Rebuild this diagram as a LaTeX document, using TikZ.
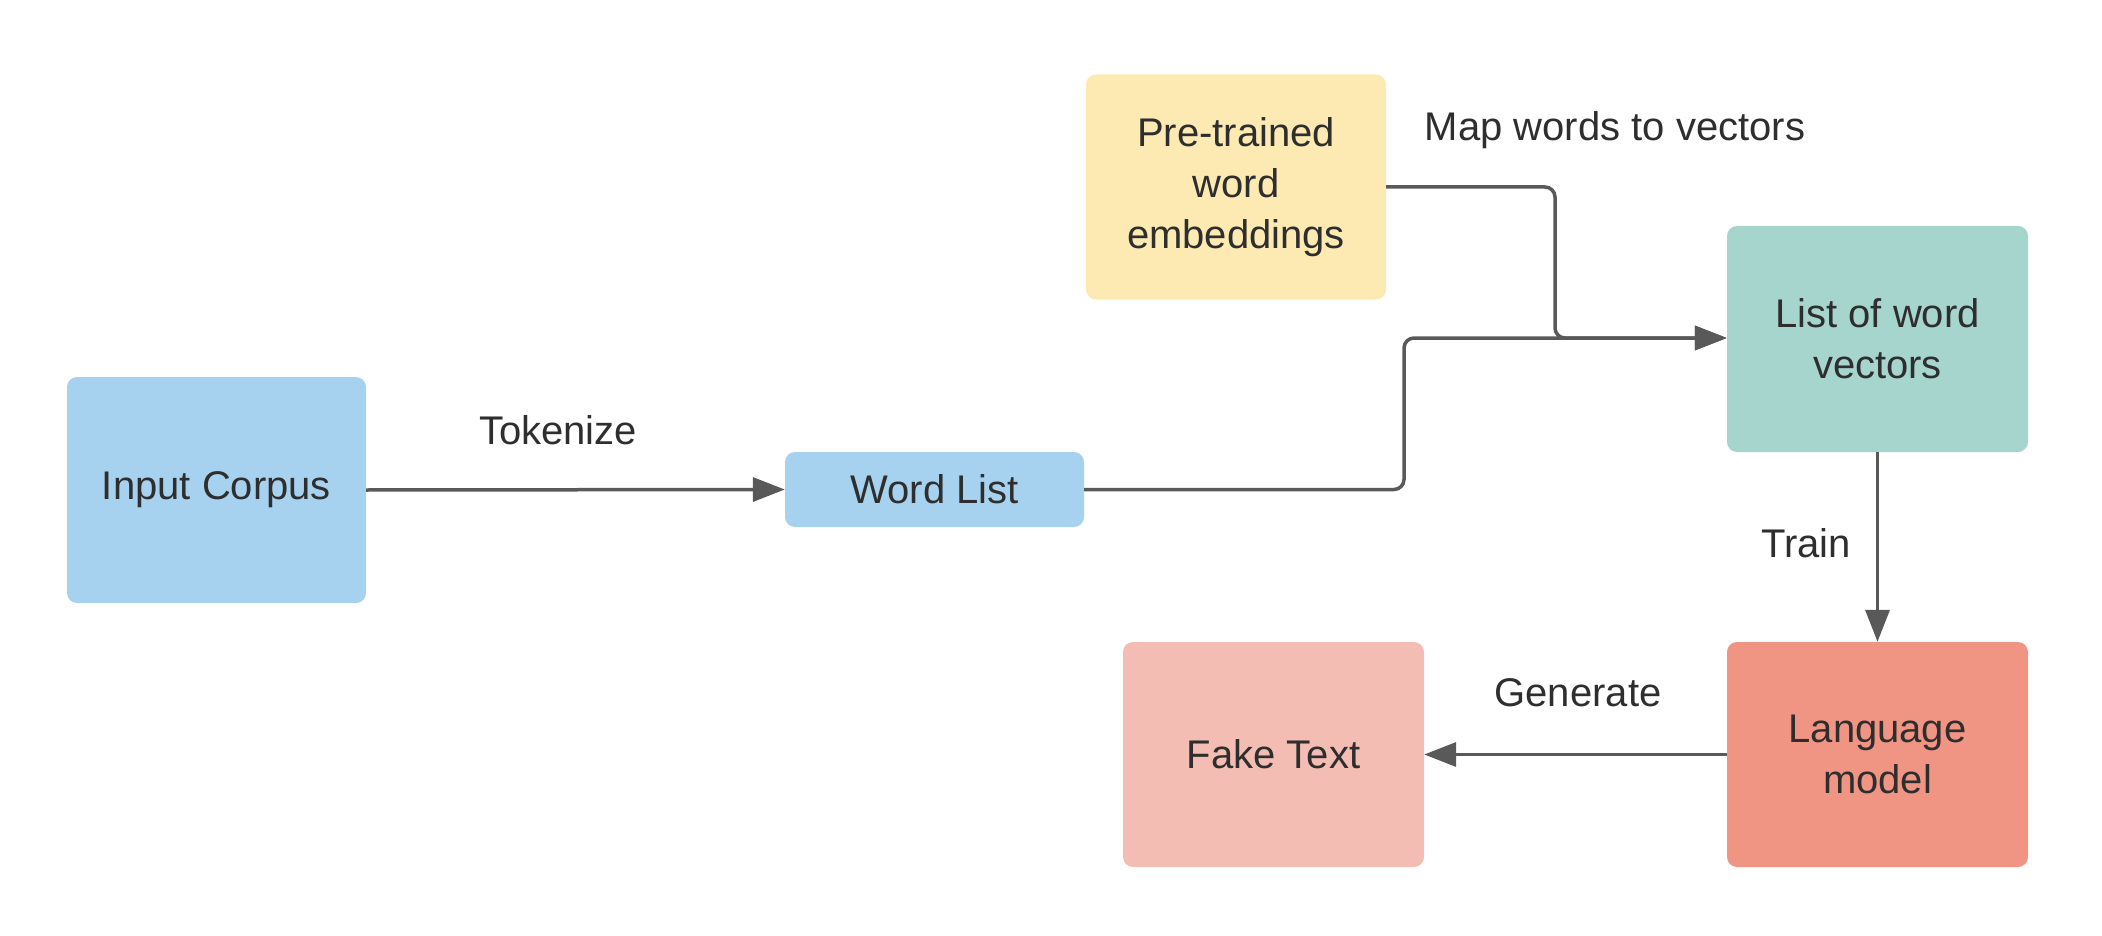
\documentclass[tikz,border=0pt]{standalone}
\usepackage{fontspec}
\setmainfont{Liberation Sans}
\usetikzlibrary{arrows.meta}
\definecolor{cblue}{HTML}{A7D2EF}
\definecolor{cyellow}{HTML}{FCEAB2}
\definecolor{cteal}{HTML}{A6D5CD}
\definecolor{cred}{HTML}{F09584}
\definecolor{cpink}{HTML}{F4BDB3}
\definecolor{cline}{HTML}{595959}
\definecolor{ctext}{HTML}{2E2E2E}
\tikzset{
  box/.style={rectangle, rounded corners=10pt, draw=none, align=center, text=ctext,
    inner sep=0pt, font=\fontsize{40}{51}\selectfont},
  conn/.style={draw=cline, line width=3.5pt, -{Triangle[length=32pt,width=24pt]}},
  lbl/.style={text=ctext, font=\fontsize{40}{51}\selectfont, inner sep=0pt}
}
\begin{document}
\begin{tikzpicture}[x=1pt,y=-1pt]
\useasboundingbox (0,0) rectangle (2102,936);
\node[box, fill=cblue, minimum width=299pt, minimum height=226pt] (ic) at (216.5,490) {Input Corpus};
\node[box, fill=cblue, minimum width=299pt, minimum height=75pt] (wl) at (934.5,489.5) {Word List};
\node[box, fill=cyellow, minimum width=300pt, minimum height=225pt] (pt) at (1236,187) {Pre-trained\\word\\embeddings};
\node[box, fill=cteal, minimum width=301pt, minimum height=226pt] (lw) at (1877.5,339) {List of word\\vectors};
\node[box, fill=cred, minimum width=301pt, minimum height=225pt] (lm) at (1877.5,754.5) {Language\\model};
\node[box, fill=cpink, minimum width=301pt, minimum height=225pt] (ft) at (1273.5,754.5) {Fake Text};
\coordinate (j1) at (1555,338);
\coordinate (j2) at (1404,338);
\draw[conn] (ic.east) -- (wl.west);
\draw[conn, rounded corners=10pt] (pt.east |- 0,187) -| (j1) -- (lw.west |- j1);
\draw[conn, rounded corners=10pt] (wl.east) -| (j2) -- (lw.west |- j2);
\draw[conn] (lw.south) -- (lm.north);
\draw[conn] (lm.west) -- (ft.east);
\node[lbl] (l1) at (558,430) {Tokenize};
\node[lbl] (l2) at (1615,130) {Map words to vectors};
\node[lbl] (l3) at (1806,543) {Train};
\node[lbl] (l4) at (1578,693) {Generate};
\end{tikzpicture}
\end{document}
